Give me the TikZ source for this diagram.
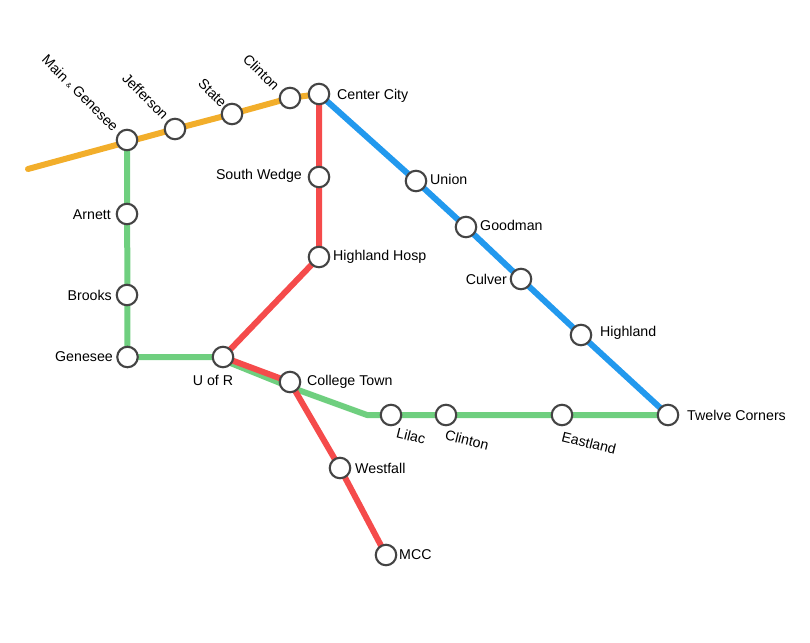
\documentclass[tikz,border=0pt]{standalone}
\usepackage{fontspec}
\setmainfont{Liberation Sans}
\usetikzlibrary{backgrounds}
\definecolor{lineorange}{HTML}{F2AE2B}
\definecolor{linegreen}{HTML}{6FCF7F}
\definecolor{linered}{HTML}{F54B4B}
\definecolor{lineblue}{HTML}{2299EE}
\definecolor{ringcol}{HTML}{444444}
\tikzset{
 stn/.style={circle,draw=ringcol,line width=2.1pt,fill=white,minimum size=20.5pt,inner sep=0pt},
 lbl/.style={font=\fontsize{14.2}{16}\selectfont,inner sep=0pt,text=black},
 route/.style={line width=6pt,line join=round},
}
\begin{document}
\begin{tikzpicture}[x=1pt,y=-1pt]
\useasboundingbox (0,0) rectangle (810,642);
\coordinate (west) at (28,169);
\coordinate (bend) at (367,415);
\coordinate (ctA) at (290,387);
\coordinate (urA) at (223,360);
\node[stn] (main) at (127,140) {};
\node[stn] (jeff) at (175,129) {};
\node[stn] (state) at (232,114) {};
\node[stn] (clintonN) at (290,98) {};
\node[stn] (center) at (319,94) {};
\node[stn] (south) at (319,177) {};
\node[stn] (hosp) at (319,257) {};
\node[stn] (union) at (416,181) {};
\node[stn] (good) at (466,227) {};
\node[stn] (culver) at (521,279) {};
\node[stn] (high) at (581,335) {};
\node[stn] (twelve) at (668,415) {};
\node[stn] (arnett) at (127,214) {};
\node[stn] (brooks) at (127,295) {};
\node[stn] (genesee) at (127.5,357) {};
\node[stn] (uofr) at (223,357) {};
\node[stn] (college) at (290,382) {};
\node[stn] (lilac) at (391,415) {};
\node[stn] (clintonS) at (446,415) {};
\node[stn] (east) at (562,415) {};
\node[stn] (west2) at (340,468) {};
\node[stn] (mcc) at (386,555) {};
\begin{scope}[on background layer]
\draw[route,lineorange,line cap=round] (west) -- (jeff.center) -- (state.center) -- (clintonN.center) -- (center.center);
\draw[route,linegreen] (main.center) -- (genesee.center) -- (uofr.center) -- (urA) -- (ctA) -- (bend) -- (twelve.center);
\draw[route,lineblue] (center.center) -- (union.center) -- (good.center) -- (culver.center) -- (high.center) -- (twelve.center);
\draw[route,linered] (center.center) -- (south.center) -- (hosp.center) -- (uofr.center) -- (college.center) -- (west2.center) -- (mcc.center);
\end{scope}
\node[lbl,anchor=north east,rotate=-45] (tMain) at (120,125) {Main {\fontsize{7}{8}\selectfont\&} Genesee};
\node[lbl,anchor=north east,rotate=-45] (tJeff) at (170,113) {Jefferson};
\node[lbl,anchor=north east,rotate=-45] (tState) at (228,101) {State};
\node[lbl,anchor=north east,rotate=-45] (tClinton) at (281,84) {Clinton};
\node[lbl,anchor=west] (tCenter) at (337,96) {Center City};
\node[lbl,anchor=east] (tSouth) at (302,176) {South Wedge};
\node[lbl,anchor=west] (tHosp) at (333,257) {Highland Hosp};
\node[lbl,anchor=west] (tUnion) at (430,179) {Union};
\node[lbl,anchor=west] (tGood) at (480,225) {Goodman};
\node[lbl,anchor=east] (tCulver) at (507,279) {Culver};
\node[lbl,anchor=west] (tHigh) at (600,333) {Highland};
\node[lbl,anchor=west] (tTwelve) at (687,415) {Twelve Corners};
\node[lbl,anchor=east] (tArnett) at (111,215) {Arnett};
\node[lbl,anchor=east] (tBrooks) at (112,295) {Brooks};
\node[lbl,anchor=east] (tGenesee) at (113,357) {Genesee};
\node[lbl] (tUofR) at (213,380) {U of R};
\node[lbl,anchor=west] (tCollege) at (307,382) {College Town};
\node[lbl,rotate=-14] (tLilac) at (411,436) {Lilac};
\node[lbl,rotate=-14] (tClintonS) at (467,440) {Clinton};
\node[lbl,rotate=-14] (tEast) at (589,443) {Eastland};
\node[lbl,anchor=west] (tWest) at (355,468) {Westfall};
\node[lbl,anchor=west] (tMcc) at (399,555) {MCC};
\end{tikzpicture}
\end{document}
